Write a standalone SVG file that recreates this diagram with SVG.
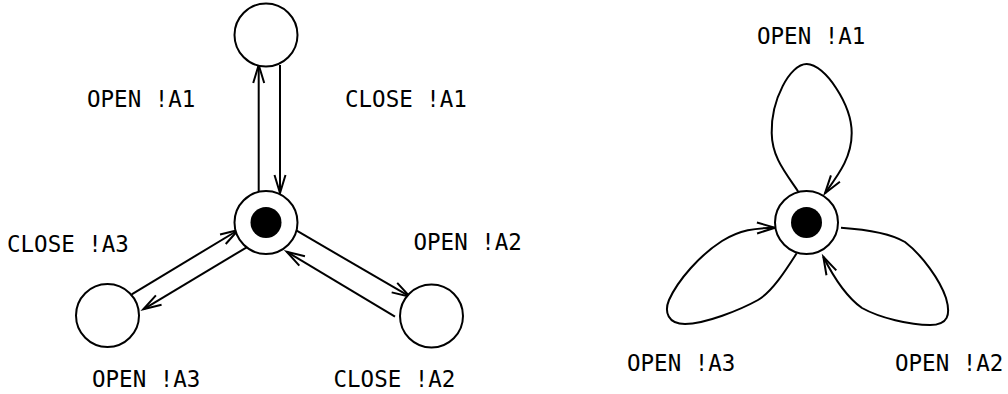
<svg xmlns="http://www.w3.org/2000/svg" width="1008" height="394" viewBox="0 0 1008 394">
  <style>
    .st { fill: #fff; stroke: #000; stroke-width: 2; }
    .dot { fill: #000; stroke: none; }
    .edge { fill: none; stroke: #000; stroke-width: 2; marker-end: url(#arr); }
    .lbl { font-family: "DejaVu Sans Mono", "Liberation Mono", monospace; font-size: 22.5px; fill: #000; }
  </style>
  <defs>
    <marker id="arr" markerWidth="24" markerHeight="16" viewBox="-20 -8 24 16" refX="0" refY="0" orient="auto" markerUnits="userSpaceOnUse">
      <path d="M-18,-5.5 L0,0 L-18,5.5" fill="none" stroke="#000" stroke-width="2"/>
    </marker>
  </defs>
  <rect width="1008" height="394" fill="#fff"/>

  <g id="connectors">
    <line class="edge" x1="258.7" y1="193" x2="258.7" y2="65"/>
    <line class="edge" x1="280" y1="65" x2="280" y2="193"/>
    <line class="edge" x1="131.7" y1="294.3" x2="238.3" y2="230"/>
    <line class="edge" x1="251.7" y1="244.3" x2="143.3" y2="309.3"/>
    <line class="edge" x1="296.7" y1="230.7" x2="410" y2="296.7"/>
    <line class="edge" x1="395" y1="316.7" x2="286.7" y2="251.7"/>
    <path class="edge" d="M798.3,191.7 C785,172 772,157 771.7,133 C771,100 790,64 806.7,64 C825,64 851.7,105 851.7,133 C851.7,158 838,175 825,193.3"/>
    <path class="edge" d="M796.7,253.3 C786,270 772,292 758,300 C740,310 705,324 685,324 C668,324 664,312 669,300 C678,280 700,255 722,241 C740,230 755,228 775,227.7"/>
    <path class="edge" d="M841,227.7 C860,229 890,233 905,242 C922,255 940,280 946,298 C951,315 948,325 930,325 C910,325 880,318 862,308 C848,298 835,280 823.3,256.7"/>
  </g>

  <g id="s_top">
    <circle class="st" cx="266" cy="35" r="31.5"/>
  </g>
  <g id="s_init">
    <circle class="st" cx="266" cy="222.5" r="31.5"/>
    <circle class="dot" cx="266" cy="222.5" r="15.5"/>
  </g>
  <g id="s_left">
    <circle class="st" cx="107.5" cy="315.5" r="31.5"/>
  </g>
  <g id="s_right">
    <circle class="st" cx="431.5" cy="316" r="31.5"/>
  </g>
  <g id="s_single">
    <circle class="st" cx="806.5" cy="222.5" r="31.5"/>
    <circle class="dot" cx="806.5" cy="222.5" r="15.5"/>
  </g>

  <g id="labels">
    <text class="lbl" x="87" y="106.7">OPEN !A1</text>
    <text class="lbl" x="345" y="106.7">CLOSE !A1</text>
    <text class="lbl" x="7" y="251.7">CLOSE !A3</text>
    <text class="lbl" x="413.5" y="250">OPEN !A2</text>
    <text class="lbl" x="92" y="386.5">OPEN !A3</text>
    <text class="lbl" x="333.5" y="386.5">CLOSE !A2</text>
    <text class="lbl" x="757" y="44.3">OPEN !A1</text>
    <text class="lbl" x="627" y="370.7">OPEN !A3</text>
    <text class="lbl" x="895" y="370.7">OPEN !A2</text>
  </g>
</svg>
